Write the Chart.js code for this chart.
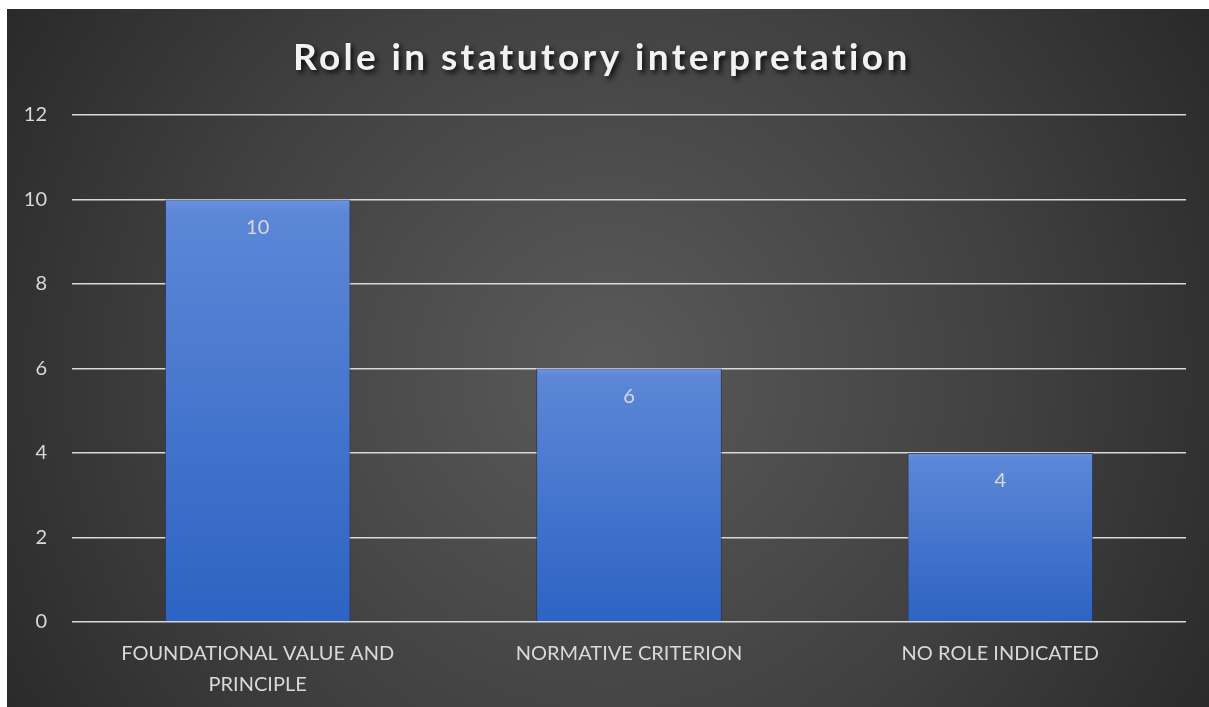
<!DOCTYPE html>
<html>
<head>
<meta charset="utf-8">
<script src="https://cdn.jsdelivr.net/npm/chart.js@4.4.1/dist/chart.umd.min.js"></script>
<style>
    html, body { margin: 0; background: #ffffff; overflow: hidden; }
    #panel { position: absolute; left: 7px; top: 9px; width: 1202px; height: 698px; }
</style>
</head>
<body>
<div id="panel"><canvas id="grafik"></canvas></div>
<script>
// Data grafik
const judul = 'Role in statutory interpretation';
const kategori = [['FOUNDATIONAL VALUE AND', 'PRINCIPLE'], 'NORMATIVE CRITERION', 'NO ROLE INDICATED'];
const jumlah = [10, 6, 4];
const tickY = [0, 2, 4, 6, 8, 10, 12];

const warnaTeks = '#d9d9d9';
const hurufUtama = 'Lato, "Open Sans", sans-serif';

// Latar belakang gelap dengan gradasi radial
const latarPlugin = {
    id: 'latar',
    beforeDraw(chart) {
        const { ctx, width, height } = chart;
        const g = ctx.createRadialGradient(width * 0.5, height * 0.52, 0, width * 0.5, height * 0.52, width * 0.62);
        g.addColorStop(0, '#5a5a5a');
        g.addColorStop(0.55, '#404040');
        g.addColorStop(1, '#262626');
        ctx.save();
        ctx.fillStyle = g;
        ctx.fillRect(0, 0, width, height);
        ctx.restore();
    }
};

// Judul tebal dengan bayangan
const judulPlugin = {
    id: 'judul',
    afterDraw(chart) {
        const c = chart.ctx;
        c.save();
        c.font = 'bold 37px ' + hurufUtama;
        c.letterSpacing = '0px';
        const w0 = c.measureText(judul).width;
        c.letterSpacing = ((615 - w0) / (judul.length - 1)) + 'px';
        c.fillStyle = '#f2f2f2';
        c.textAlign = 'left';
        c.textBaseline = 'alphabetic';
        c.shadowColor = 'rgba(0,0,0,0.8)';
        c.shadowBlur = 5;
        c.shadowOffsetX = 3;
        c.shadowOffsetY = 3;
        c.fillText(judul, 286, 61);
        c.restore();
    }
};

// Angka di dalam batang, dekat ujung atas
const labelNilaiPlugin = {
    id: 'labelNilai',
    afterDatasetsDraw(chart) {
        const c = chart.ctx;
        const meta = chart.getDatasetMeta(0);
        c.save();
        c.font = '20px ' + hurufUtama;
        c.fillStyle = warnaTeks;
        c.textAlign = 'center';
        c.textBaseline = 'middle';
        meta.data.forEach((bar, i) => {
            c.fillText(String(jumlah[i]), bar.x, bar.y + 28);
        });
        c.restore();
    }
};

// Gradasi biru per batang dari atas ke bawah
const warnaBatang = (context) => {
    const chart = context.chart;
    if (!chart.chartArea || !chart.scales.y) return '#4a78d0';
    const sy = chart.scales.y;
    const atas = sy.getPixelForValue(context.raw);
    const bawah = sy.getPixelForValue(0);
    const g = chart.ctx.createLinearGradient(0, atas, 0, bawah);
    g.addColorStop(0, '#6d91e0');
    g.addColorStop(0.03, '#5c87d7');
    g.addColorStop(1, '#2d63c3');
    return g;
};

new Chart(document.getElementById('grafik'), {
    type: 'bar',
    data: {
        labels: kategori,
        datasets: [{
            data: jumlah,
            backgroundColor: warnaBatang,
            borderColor: 'rgba(25,45,95,0.7)',
            borderWidth: 1,
            categoryPercentage: 1,
            barPercentage: 0.5
        }]
    },
    options: {
        responsive: true,
        maintainAspectRatio: false,
        animation: false,
        layout: { padding: { top: 106, right: 23, left: 0, bottom: 0 } },
        plugins: {
            legend: { display: false },
            title: { display: false },
            tooltip: { enabled: false }
        },
        scales: {
            x: {
                grid: { display: false },
                border: { display: false },
                afterFit: (s) => { s.height = 85; },
                ticks: {
                    color: warnaTeks,
                    font: { family: hurufUtama, size: 20, lineHeight: 1.55 },
                    padding: 8,
                    maxRotation: 0,
                    autoSkip: false
                }
            },
            y: {
                min: 0,
                max: 12,
                afterBuildTicks: (s) => { s.ticks = tickY.map(v => ({ value: v })); },
                afterFit: (s) => { s.width = 65; },
                grid: { color: '#d9d9d9', lineWidth: 1.5, drawTicks: false },
                border: { display: false },
                ticks: {
                    color: warnaTeks,
                    font: { family: hurufUtama, size: 20 },
                    padding: 25
                }
            }
        }
    },
    plugins: [latarPlugin, judulPlugin, labelNilaiPlugin]
});
</script>
</body>
</html>
